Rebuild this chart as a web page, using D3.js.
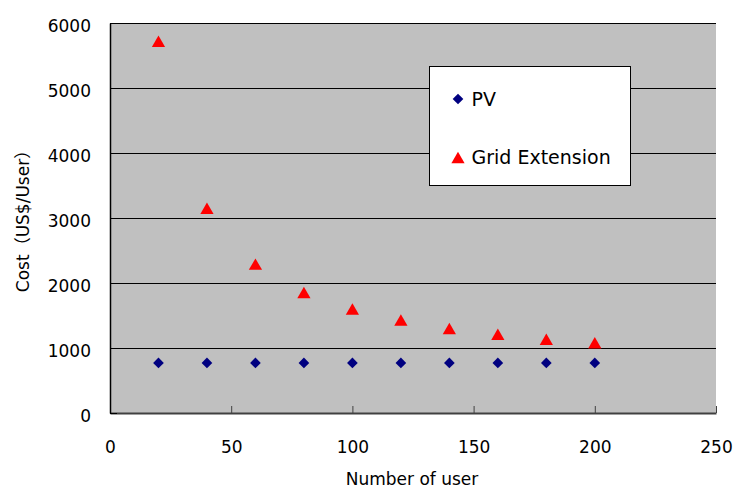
<!DOCTYPE html>
<html>
<head>
<meta charset="utf-8">
<script src="https://cdn.jsdelivr.net/npm/d3@7"></script>
<style>
  body { margin: 0; background: #fff; }
  svg text { font-family: "DejaVu Sans", "Noto Sans CJK JP", sans-serif; fill: #000; }
</style>
</head>
<body>
<div class="chart"></div>
<script>
// values
const users = [20, 40, 60, 80, 100, 120, 140, 160, 180, 200];
const pvCost = [770, 770, 770, 770, 770, 770, 770, 770, 770, 770];
const gridCost = [5720, 3150, 2290, 1855, 1600, 1430, 1300, 1210, 1135, 1080];
const xTicks = [0, 50, 100, 150, 200, 250];
const yTicks = [0, 1000, 2000, 3000, 4000, 5000, 6000];
const seriesNames = ["PV", "Grid Extension"];

const width = 735, height = 488;
const margin = { top: 23, right: 19, bottom: 75, left: 110 };
const w = width - margin.left - margin.right;
const h = height - margin.top - margin.bottom;

const svg = d3.select('.chart').append('svg')
    .attr('width', width).attr('height', height);
const g = svg.append('g').attr('transform', `translate(${margin.left},${margin.top})`);

const x = d3.scaleLinear([0, 250], [0, w]);
const y = d3.scaleLinear([0, 6000], [h, 0]);

// plot area
g.append('rect').attr('width', w).attr('height', h).attr('fill', '#c0c0c0');

// gridlines
g.append('g').selectAll('line').data(yTicks.filter(d => d > 0)).join('line')
    .attr('x1', 0).attr('x2', w)
    .attr('y1', d => Math.round(y(d)) + 0.5).attr('y2', d => Math.round(y(d)) + 0.5)
    .attr('stroke', '#000').attr('stroke-width', 1);

// axes (ticks point inward)
const xAxis = d3.axisBottom(x).tickValues(xTicks).tickFormat(d3.format('d'))
    .tickSizeInner(-7).tickSizeOuter(0).tickPadding(28);
const yAxis = d3.axisLeft(y).tickValues(yTicks).tickFormat(d3.format('d'))
    .tickSizeInner(-7).tickSizeOuter(0).tickPadding(19);

const xg = g.append('g').attr('transform', `translate(0,${h})`).call(xAxis);
xg.select('.domain').attr('stroke', '#404040').attr('stroke-width', 2);
xg.selectAll('.tick line').attr('stroke', '#404040');
xg.selectAll('text').style('font-size', '17px');

const yg = g.append('g').call(yAxis);
yg.select('.domain').attr('stroke', '#000').attr('stroke-width', 1.5);
yg.selectAll('text').style('font-size', '17px').attr('dy', '0.5em');

// axis titles
svg.append('text').attr('x', 412).attr('y', 485)
    .attr('text-anchor', 'middle').style('font-size', '17px').text('Number of user');
svg.append('text').attr('transform', `translate(29,217) rotate(-90)`)
    .attr('text-anchor', 'middle').style('font-size', '17px').text('Cost（US$/User）');

// series
const diamond = d3.symbol().type(d3.symbolSquare).size(57);
const triangle = d3.symbol().type(d3.symbolTriangle).size(76);
const triShift = 1.9; // centre the triangle's box on the point, like the spreadsheet markers

g.append('g').selectAll('path').data(users).join('path')
    .attr('d', diamond)
    .attr('transform', (d, i) => `translate(${x(d)},${y(pvCost[i])}) rotate(45)`)
    .attr('fill', '#000080');

g.append('g').selectAll('path').data(users).join('path')
    .attr('d', triangle)
    .attr('transform', (d, i) => `translate(${x(d)},${y(gridCost[i]) + triShift})`)
    .attr('fill', '#ff0000');

// legend
const lg = svg.append('g').attr('transform', 'translate(429.5,66.5)');
lg.append('rect').attr('width', 201).attr('height', 119)
    .attr('fill', '#fff').attr('stroke', '#000').attr('stroke-width', 1);
lg.append('path').attr('d', diamond).attr('transform', 'translate(28.5,32.5) rotate(45)').attr('fill', '#000080');
lg.append('path').attr('d', triangle).attr('transform', `translate(28.5,${91 + triShift})`).attr('fill', '#ff0000');
lg.selectAll('text.lbl').data(seriesNames).join('text').attr('class', 'lbl')
    .attr('x', 42).attr('y', (d, i) => 39.5 + i * 58)
    .style('font-size', '19px').text(d => d);
</script>
</body>
</html>
